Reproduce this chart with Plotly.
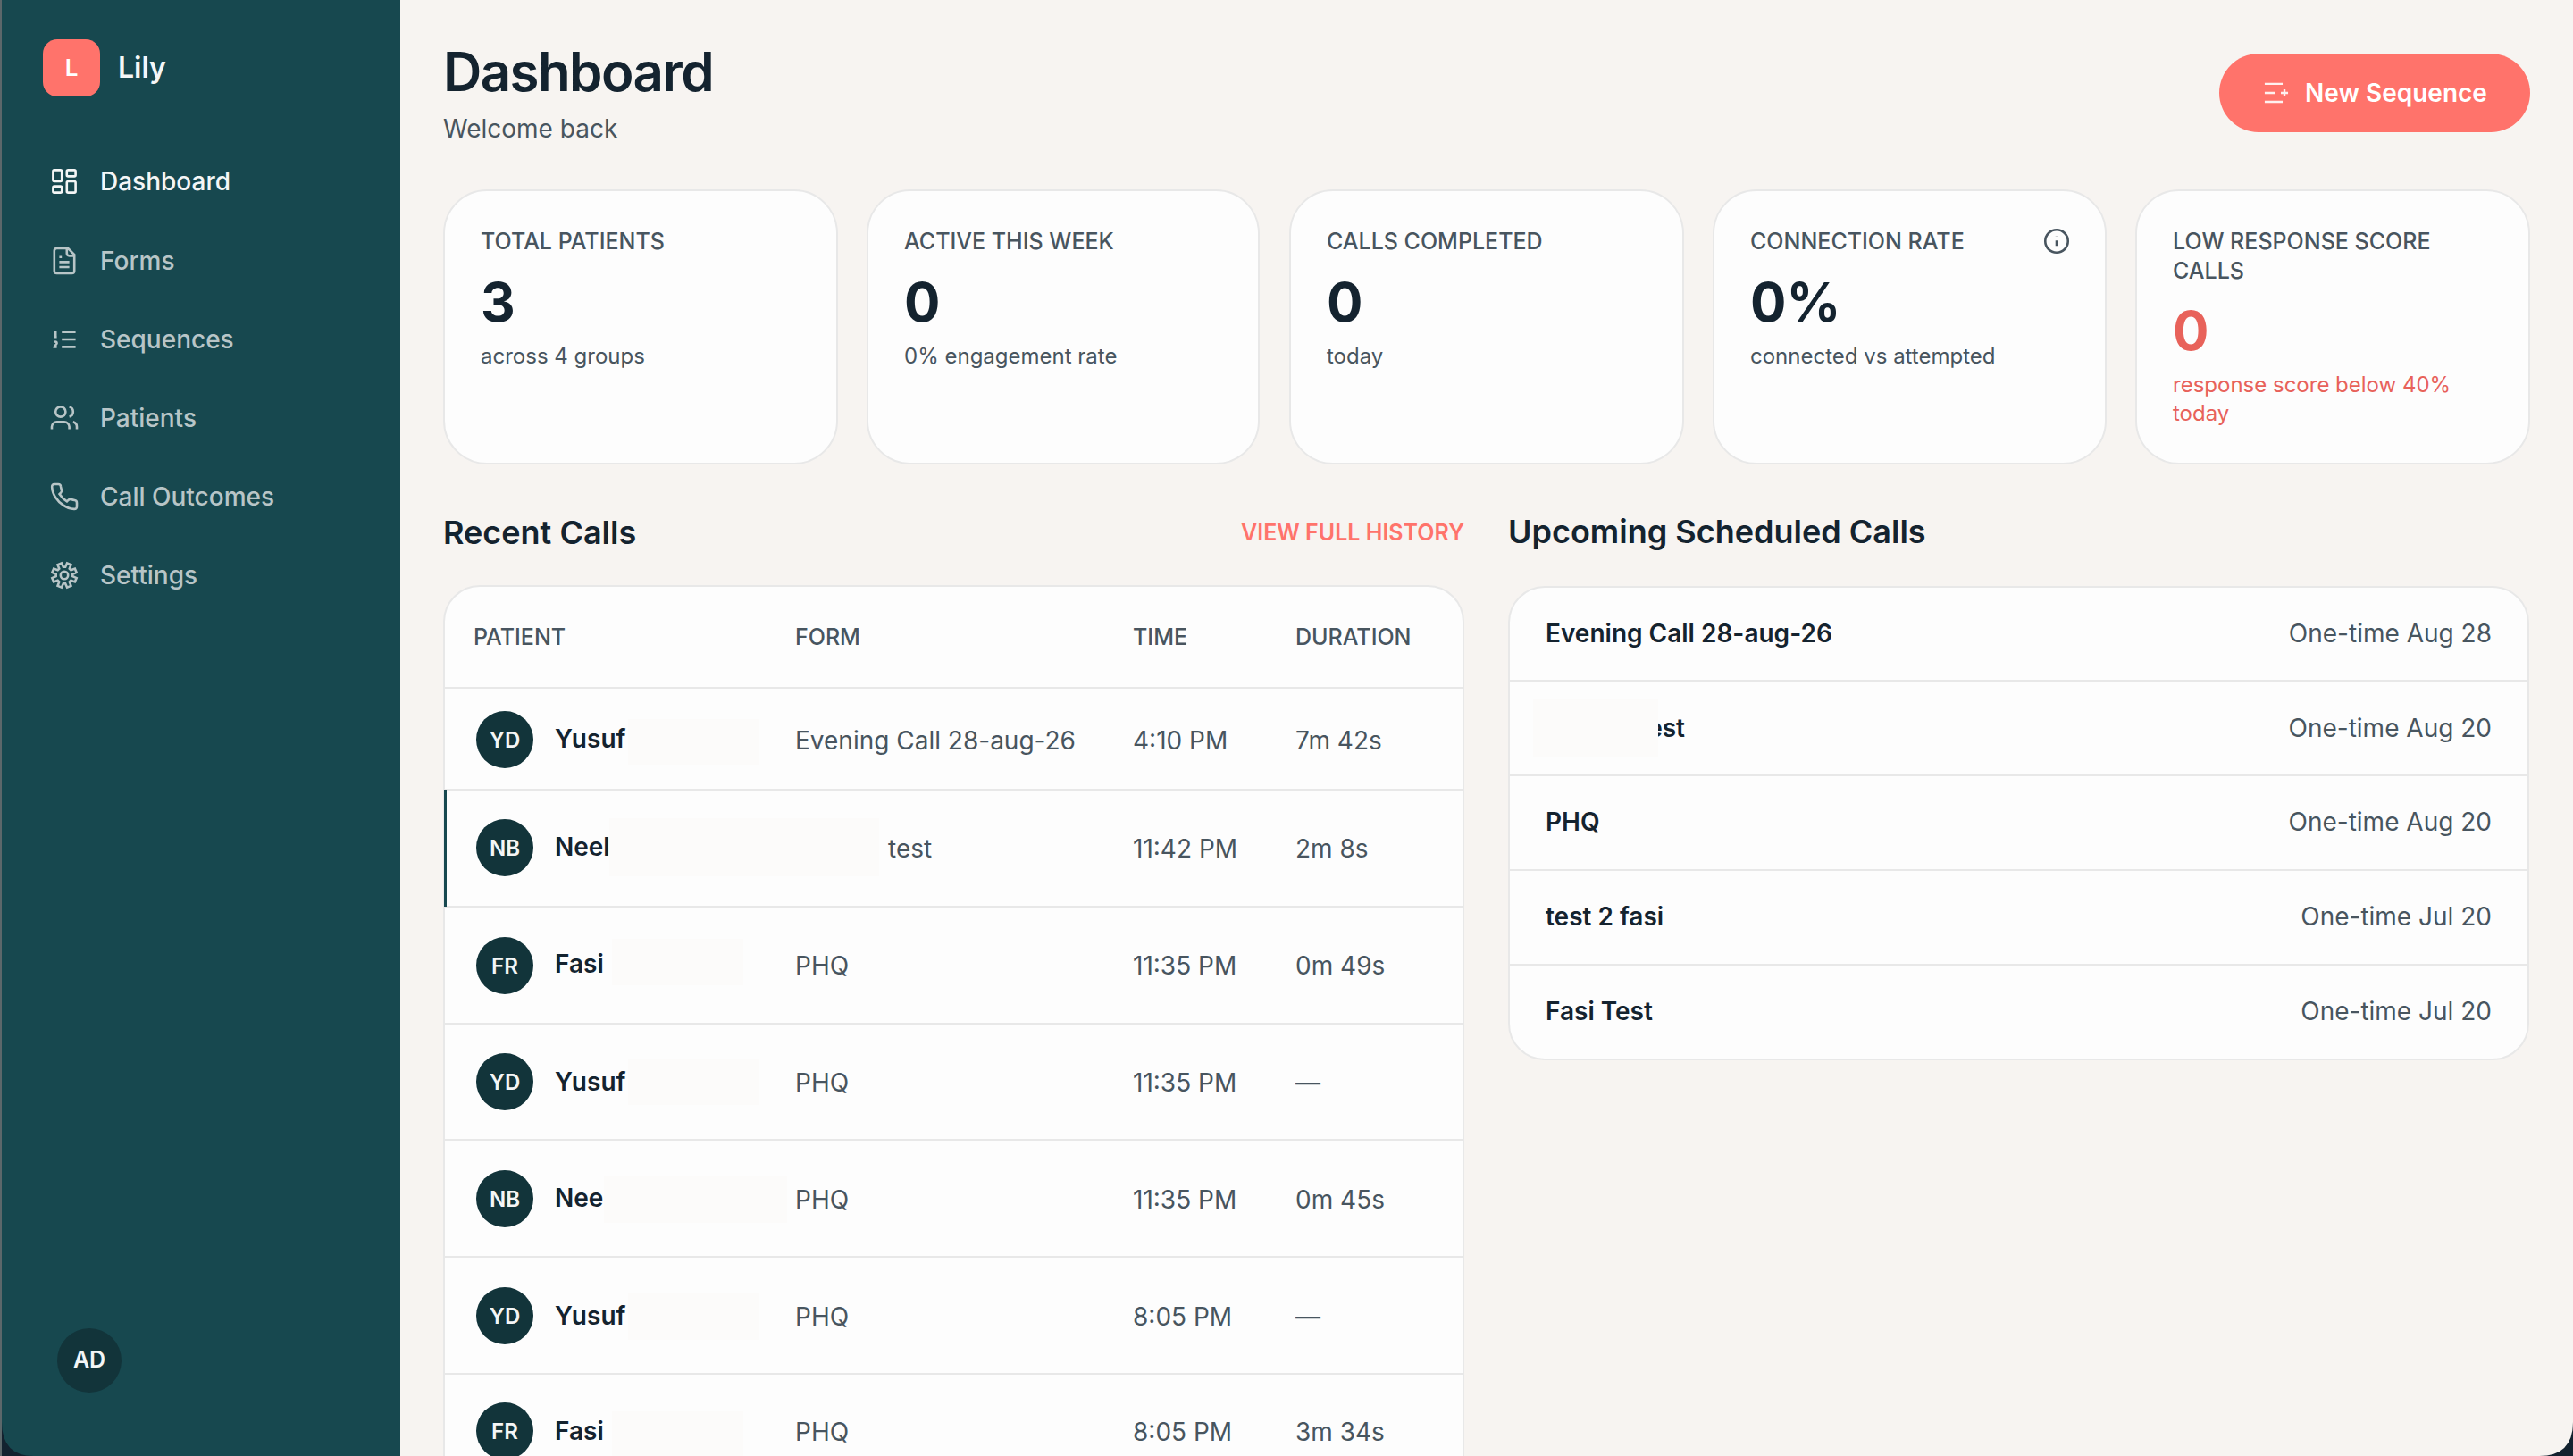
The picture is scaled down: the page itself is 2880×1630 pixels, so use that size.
import re
import math
import plotly.graph_objects as go

# page text
nav_items = ['Dashboard', 'Forms', 'Sequences', 'Patients', 'Call Outcomes', 'Settings']
card_labels = [['TOTAL PATIENTS'], ['ACTIVE THIS WEEK'], ['CALLS COMPLETED'], ['CONNECTION RATE'], ['LOW RESPONSE SCORE', 'CALLS']]
card_values = ['3', '0', '0', '0%', '0']
card_notes = [['across 4 groups'], ['0% engagement rate'], ['today'], ['connected vs attempted'], ['response score below 40%', 'today']]
table_headers = ['PATIENT', 'FORM', 'TIME', 'DURATION']
call_initials = ['YD', 'NB', 'FR', 'YD', 'NB', 'YD', 'FR']
call_names = ['Yusuf', 'Neel', 'Fasi', 'Yusuf', 'Nee', 'Yusuf', 'Fasi']
call_forms = ['Evening Call 28-aug-26', 'test', 'PHQ', 'PHQ', 'PHQ', 'PHQ', 'PHQ']
call_times = ['4:10 PM', '11:42 PM', '11:35 PM', '11:35 PM', '11:35 PM', '8:05 PM', '8:05 PM']
call_durations = ['7m 42s', '2m 8s', '0m 49s', '—', '0m 45s', '—', '3m 34s']
upcoming_names = ['Evening Call 28-aug-26', 'Test', 'PHQ', 'test 2 fasi', 'Fasi Test']
upcoming_when = ['One-time Aug 28', 'One-time Aug 20', 'One-time Aug 20', 'One-time Jul 20', 'One-time Jul 20']

W, H = 2880, 1630
FONT = 'Inter'
SIDEBAR = '#17484F'
PAGE = '#F7F4F1'
CARD = '#FDFDFD'
EDGE = '#E8E8E8'
CORAL = '#FF736B'
INK = '#14232F'
GREY = '#48555F'
RED = '#E8625A'
AVATAR = '#12343A'
BLUR = '#FCFBFA'

shapes = []
fig = go.Figure()


def rr_path(x0, y0, x1, y1, r):
    return (f'M{x0+r},{y0} L{x1-r},{y0} Q{x1},{y0} {x1},{y0+r} L{x1},{y1-r} Q{x1},{y1} {x1-r},{y1} '
            f'L{x0+r},{y1} Q{x0},{y1} {x0},{y1-r} L{x0},{y0+r} Q{x0},{y0} {x0+r},{y0} Z')


def round_path(x0, y0, x1, y1, r):
    k = 0.45 * r  # C curve is rounder than Q
    return (f'M{x0+r},{y0} L{x1-r},{y0} C{x1-k},{y0} {x1},{y0+k} {x1},{y0+r} L{x1},{y1-r} C{x1},{y1-k} {x1-k},{y1} {x1-r},{y1} '
            f'L{x0+r},{y1} C{x0+k},{y1} {x0},{y1-k} {x0},{y1-r} L{x0},{y0+r} C{x0},{y0+k} {x0+k},{y0} {x0+r},{y0} Z')


def card(x0, y0, x1, y1, r):
    shapes.append(dict(type='path', path=round_path(x0, y0, x1, y1, r), fillcolor=CARD, line=dict(color=EDGE, width=2), layer='below'))


def box(x0, y0, x1, y1, color, layer='below'):
    shapes.append(dict(type='rect', x0=x0, y0=y0, x1=x1, y1=y1, fillcolor=color, line=dict(width=0), layer=layer))


def hline(x0, x1, y):
    shapes.append(dict(type='line', x0=x0, x1=x1, y0=y, y1=y, line=dict(color=EDGE, width=2), layer='below'))


def dot(cx, cy, r, color):
    shapes.append(dict(type='circle', x0=cx-r, x1=cx+r, y0=cy-r, y1=cy+r, fillcolor=color, line=dict(width=0), layer='below'))


def text(xs, ys, labels, size, color, weight=400, pos='middle right'):
    # plotly sits text a bit high of the point
    ys = [y + 0.12 * size for y in ys]
    fig.add_trace(go.Scatter(x=xs, y=ys, text=labels, mode='text', textposition=pos, cliponaxis=False, hoverinfo='skip',
                             showlegend=False, textfont=dict(family=FONT, size=size, color=color, weight=weight)))


def circ_d(cx, cy, r):
    k = 0.552 * r
    return (f'M{cx+r} {cy} C{cx+r} {cy+k} {cx+k} {cy+r} {cx} {cy+r} C{cx-k} {cy+r} {cx-r} {cy+k} {cx-r} {cy} '
            f'C{cx-r} {cy-k} {cx-k} {cy-r} {cx} {cy-r} C{cx+k} {cy-r} {cx+r} {cy-k} {cx+r} {cy} Z')


def icon(d, cx, cy, color, s=1.4, width=2.6):
    # d is in a 24 unit box, mapped around cx,cy
    nums = iter(range(10**6))

    def place(m):
        v = float(m.group())
        if next(nums) % 2 == 0:
            return f'{cx + (v - 12) * s:.2f}'
        return f'{cy + (v - 12) * s:.2f}'
    path = re.sub(r'-?\d+\.?\d*', place, d)
    shapes.append(dict(type='path', path=path, line=dict(color=color, width=width), fillcolor='rgba(0,0,0,0)', layer='below'))


def gear_d():
    pts = []
    for i in range(8):
        a = i * math.pi / 4 - math.pi / 8
        for da, r in [(-0.27, 6.7), (-0.17, 10), (0.17, 10), (0.27, 6.7)]:
            pts.append((12 + r * math.cos(a + da), 12 + r * math.sin(a + da)))
    return 'M' + ' L'.join(f'{x:.2f} {y:.2f}' for x, y in pts) + ' Z ' + circ_d(12, 12, 3)


ICONS = [
    rr_path(3, 3, 10, 12, 1) + ' ' + rr_path(14, 3, 21, 8, 1) + ' ' + rr_path(14, 12, 21, 21, 1) + ' ' + rr_path(3, 16, 10, 21, 1),
    'M15 2 L6 2 Q4 2 4 4 L4 20 Q4 22 6 22 L18 22 Q20 22 20 20 L20 7 Z M14 2 L14 6 Q14 8 16 8 L20 8 M10 9 L8 9 M16 13 L8 13 M16 17 L8 17',
    'M10 6 L21 6 M10 12 L21 12 M10 18 L21 18 M4 6 L5 6 L5 10 M4 10 L6 10 M6 18 L4 18 C4 17 6 16 6 15 C6 14 5 13.5 4 14',
    'M16 21 L16 19 C16 17 14 15 12 15 L6 15 C4 15 2 17 2 19 L2 21 ' + circ_d(9, 7, 4)
    + ' M22 21 L22 19 C22 17 21 15.6 19 15.13 M16 3.13 C18 3.6 19 5.2 19 7 C19 8.8 18 10.4 16 10.88',
    'M22 16.92 L22 19.92 Q22 22 19.82 21.92 Q15 21.6 11.19 18.85 Q7.5 16.5 5.19 12.85 Q2.4 9 2.12 4.18 Q2 2 4.11 2 L7.11 2 Q9 2 9.11 3.72 '
    'Q9.3 5.1 9.81 6.53 Q10.2 7.8 9.36 8.64 L8.09 9.91 Q10.5 13.7 14.09 15.91 L15.36 14.64 Q16.3 13.8 17.47 14.19 Q18.9 14.7 20.28 14.89 Q22 15.1 22 16.92 Z',
    gear_d(),
]

# window + sidebar
box(0, 0, 2, H, '#5C676A')
shapes.append(dict(type='path', path=f'M2,0 L448,0 L448,{H} L38,{H} Q2,{H} 2,{H-38} Z', fillcolor=SIDEBAR, line=dict(width=0), layer='below'))
shapes.append(dict(type='path', path=f'M448,0 L{W},0 L{W},{H-38} Q{W},{H} {W-38},{H} L448,{H} Z', fillcolor=PAGE, line=dict(width=0), layer='below'))

# logo
shapes.append(dict(type='path', path=round_path(48, 44, 112, 108, 16), fillcolor=CORAL, line=dict(width=0), layer='below'))
text([80], [75], ['L'], 26, '#FFFFFF', 600, 'middle center')
text([132], [75], ['Lily'], 32, '#F5F7F7', 600)

# nav
nav_y = [203, 292, 380, 468, 556, 644]
for i, name in enumerate(nav_items):
    color = '#F4F6F6' if i == 0 else '#B8C5C7'
    icon(ICONS[i], 72, nav_y[i], color)
    text([112], [nav_y[i]], [name], 28, color, 500)

dot(100, 1523, 36, AVATAR)
text([100], [1522], ['AD'], 25, '#F4F6F6', 600, 'middle center')

# header
text([496], [80], ['Dashboard'], 60, INK, 600)
text([496], [144], ['Welcome back'], 28, GREY)
shapes.append(dict(type='path', path=round_path(2484, 60, 2832, 148, 44), fillcolor=CORAL, line=dict(width=0), layer='below'))
icon('M0 0 L15 0 M0 7.5 L8.5 7.5 M0 15 L15 15 M13.5 7.5 L19.5 7.5 M16.5 4.5 L16.5 10.5', 2551, 110, '#FFF1EF', s=1.34, width=2.4)
text([2580], [104], ['New Sequence'], 28, '#FFFFFF', 600)

# stat cards
card_x0 = [497, 971, 1444, 1918, 2391]
card_x1 = [937, 1409, 1884, 2357, 2831]
for i in range(5):
    card(card_x0[i], 213, card_x1[i], 519, 48)
    tx = card_x0[i] + 41
    ly = [270 + 33 * n for n in range(len(card_labels[i]))]
    text([tx] * len(ly), ly, card_labels[i], 25, GREY, 500)
    vy = 338 + (len(card_labels[i]) - 1) * 32
    note_color = RED if i == 4 else GREY
    text([tx], [vy], [card_values[i]], 60, RED if i == 4 else INK, 700)
    ny = [vy + 60 + 32 * n for n in range(len(card_notes[i]))]
    text([tx] * len(ny), ny, card_notes[i], 24, note_color)

# info icon on the connection card
icon(circ_d(12, 12, 9.5) + ' M12 16 L12 11.5 M12 8 L12 8.2', 2302, 270, GREY, s=1.34)

# recent calls
text([496], [596], ['Recent Calls'], 36, INK, 600)
text([1639], [596], ['VIEW FULL HISTORY'], 25, CORAL, 600, 'middle left')
card(497, 656, 1638, 1700, 40)
col_x = [530, 890, 1268, 1450]
text(col_x, [713] * 4, table_headers, 25, GREY, 500)
row_lines = [770, 884, 1015, 1146, 1276, 1407, 1538]
for y in row_lines:
    hline(498, 1637, y)
box(497, 884, 500, 1015, SIDEBAR)
avatar_y = [828, 949, 1081, 1211, 1342, 1473, 1602]
name_y = [827, 948, 1079, 1211, 1341, 1473, 1602]
form_y = [829, 950, 1081, 1212, 1343, 1474, 1603]
form_x = [890, 994, 890, 890, 890, 890, 890]
for i in range(7):
    dot(565, avatar_y[i], 32, AVATAR)
text([565] * 7, avatar_y, call_initials, 24, '#F4F6F6', 600, 'middle center')
text([621] * 7, name_y, call_names, 28, INK, 600)
text(form_x, form_y, call_forms, 28, GREY)
text([1268] * 7, form_y, call_times, 28, GREY)
text([1450] * 7, form_y, call_durations, 28, GREY)

# redaction patches
blur_x0 = [703, 682, 685, 703, 676, 703, 685]
blur_x1 = [850, 984, 832, 850, 881, 850, 832]
blur_y0 = [805, 916, 1051, 1185, 1317, 1447, 1580]
blur_y1 = [856, 981, 1103, 1237, 1369, 1500, 1640]
for i in range(7):
    box(blur_x0[i], blur_y0[i], blur_x1[i], blur_y1[i], BLUR)

# upcoming calls
text([1688], [595], ['Upcoming Scheduled Calls'], 36, INK, 600)
card(1689, 657, 2830, 1186, 40)
for y in [762, 868, 974, 1080]:
    hline(1690, 2829, y)
up_y = [709, 815, 920, 1026, 1132]
up_x = [1730, 1886, 1730, 1730, 1730]
for i in range(5):
    text([up_x[i]], [up_y[i]], [upcoming_names[i]], 28, INK, 600, 'middle left' if i == 1 else 'middle right')
text([2789] * 5, up_y, upcoming_when, 28, GREY, 400, 'middle left')
box(1716, 782, 1856, 847, BLUR, layer='above')

fig.update_layout(
    width=W, height=H, margin=dict(l=0, r=0, t=0, b=0), paper_bgcolor='#13222F', plot_bgcolor='#13222F',
    xaxis=dict(range=[0, W], visible=False, fixedrange=True),
    yaxis=dict(range=[H, 0], visible=False, fixedrange=True),
    shapes=shapes, showlegend=False,
)
# page margin off, title is tracked tighter in the original
fig.write_html('out.html', config={'displayModeBar': False},
               post_script="document.body.style.margin='0';document.body.style.overflow='hidden';"
                           "document.querySelectorAll('text').forEach(function(t){"
                           "if(t.textContent==='Dashboard'&&parseFloat(t.style.fontSize)>40){t.style.letterSpacing='-1.6px';}});")
